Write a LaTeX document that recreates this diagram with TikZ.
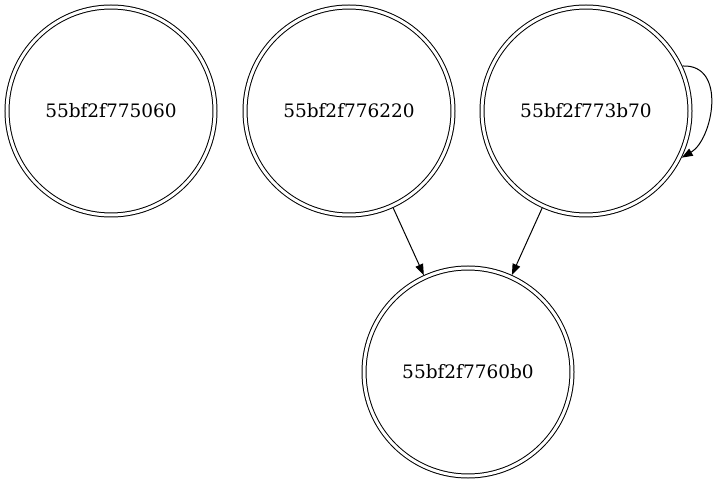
\documentclass[tikz,border=0pt]{standalone}
\usepackage{fontspec}
\setmainfont{DejaVu Serif}
\usetikzlibrary{arrows.meta}
\begin{document}
\begin{tikzpicture}[x=1pt,y=-1pt,
  state/.style={circle,draw,line width=1pt,double,double distance=3pt,minimum size=208pt,inner sep=0pt,outer sep=2.5pt,font=\fontsize{18.5}{22}\selectfont},
  edge/.style={line width=1pt,-{Triangle[length=11pt,width=8pt]}}]
\useasboundingbox (0,0) rectangle (723,486);
\node[state] (n1) at (111,111) {55bf2f775060};
\node[state] (n2) at (349,111) {55bf2f776220};
\node[state] (n3) at (586,111) {55bf2f773b70};
\node[state] (n4) at (468,372) {55bf2f7760b0};
\draw[edge] (n2) -- (n4);
\draw[edge] (n3) -- (n4);
\draw[edge] (n3.25) .. controls +(45,-2) and +(31,-18) .. (n3.-26);
\end{tikzpicture}
\end{document}
